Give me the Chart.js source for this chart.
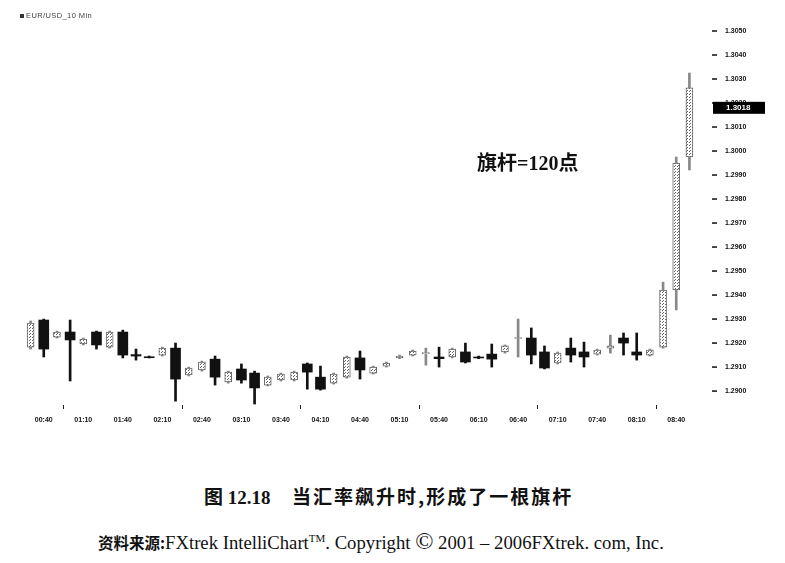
<!DOCTYPE html>
<html>
<head>
<meta charset="utf-8">
<script src="https://cdn.jsdelivr.net/npm/chart.js@4.4.1/dist/chart.umd.min.js"></script>
<style>
  html,body{margin:0;padding:0;background:#fff;}
  #wrap{position:relative;width:785px;height:563px;overflow:hidden;background:#fff;}
  #box{position:absolute;left:0;top:0;width:785px;height:440px;}
  .legend{position:absolute;left:20px;top:11px;font:7.5px "Liberation Sans",Arial,sans-serif;letter-spacing:0.4px;color:#444;white-space:nowrap;}
  .legend i{display:inline-block;width:4px;height:4px;background:#333;margin-right:2px;vertical-align:middle;}
  .note{position:absolute;left:477px;top:147px;font:bold 20px "Liberation Serif","Noto Sans CJK SC",serif;color:#111;white-space:nowrap;}
  .cap1{position:absolute;left:204px;top:482px;font:bold 19px "Liberation Serif","Noto Sans CJK SC",serif;color:#111;white-space:pre;}
  .cap2{position:absolute;left:292px;top:482px;font:bold 19px "Noto Sans CJK SC",sans-serif;letter-spacing:2px;color:#111;white-space:pre;}
  .src{position:absolute;left:98px;top:531px;font:18.7px "Liberation Serif","Noto Sans CJK SC",serif;color:#111;white-space:pre;}
  .src b{font-family:"Noto Sans CJK SC",sans-serif;font-weight:bold;font-size:15.5px;}
  .src sup{font-size:11px;vertical-align:7px;line-height:0;}
  .src .c{font-size:24px;line-height:0;}
</style>
</head>
<body>
<div id="wrap">
  <div id="box"><canvas id="c" width="785" height="440"></canvas></div>
  <div class="legend"><i></i>EUR/USD_10 Min</div>
  <div class="note">旗杆=120点</div>
  <div class="cap1">图 12.18</div>
  <div class="cap2">当汇率飙升时,形成了一根旗杆</div>
  <div class="src"><b>资料来源:</b>FXtrek IntelliChart<sup>TM</sup>. Copyright <span class="c">©</span> 2001 – 2006FXtrek. com, Inc.</div>
</div>
<script>
// ---- data ----
const categories = ["00:30","00:40","00:50","01:00","01:10","01:20","01:30","01:40","01:50","02:00",
  "02:10","02:20","02:30","02:40","02:50","03:00","03:10","03:20","03:30","03:40",
  "03:50","04:00","04:10","04:20","04:30","04:40","04:50","05:00","05:10","05:20",
  "05:30","05:40","05:50","06:00","06:10","06:20","06:30","06:40","06:50","07:00",
  "07:10","07:20","07:30","07:40","07:50","08:00","08:10","08:20","08:30","08:40","08:50"];
const openValues = [1.29183,1.29296,1.29225,1.29246,1.29196,1.29246,1.29183,1.29246,1.29152,1.29143,
  1.29150,1.29179,1.29067,1.29088,1.29133,1.29038,1.29092,1.29075,1.29025,1.29046,
  1.29046,1.29113,1.29058,1.29033,1.29058,1.29138,1.29075,1.29104,1.29138,1.29150,
  1.29156,1.29142,1.29142,1.29163,1.29142,1.29154,1.29163,1.29219,1.29221,1.29163,
  1.29117,1.29179,1.29163,1.29154,1.29179,1.29221,1.29163,1.29150,1.29183,1.29421,1.29975];
const highValues = [1.29292,1.29300,1.29250,1.29296,1.29221,1.29250,1.29250,1.29254,1.29175,1.29146,
  1.29183,1.29200,1.29100,1.29125,1.29146,1.29083,1.29113,1.29083,1.29063,1.29075,
  1.29083,1.29117,1.29104,1.29075,1.29146,1.29167,1.29104,1.29121,1.29150,1.29171,
  1.29179,1.29183,1.29179,1.29200,1.29146,1.29196,1.29192,1.29300,1.29263,1.29188,
  1.29163,1.29221,1.29204,1.29175,1.29233,1.29242,1.29242,1.29175,1.29454,1.29975,1.30325];
const lowValues = [1.29175,1.29142,1.29221,1.29042,1.29192,1.29175,1.29179,1.29138,1.29129,1.29138,
  1.29146,1.28958,1.29063,1.29083,1.29025,1.29033,1.29033,1.28946,1.29021,1.29042,
  1.29042,1.29008,1.29004,1.29029,1.29054,1.29050,1.29071,1.29100,1.29135,1.29146,
  1.29108,1.29100,1.29138,1.29117,1.29135,1.29100,1.29158,1.29142,1.29113,1.29092,
  1.29113,1.29121,1.29100,1.29150,1.29158,1.29150,1.29129,1.29146,1.29179,1.29338,1.29921];
const closeValues = [1.29283,1.29175,1.29246,1.29213,1.29217,1.29192,1.29246,1.29150,1.29146,1.29139,
  1.29179,1.29050,1.29096,1.29121,1.29058,1.29079,1.29046,1.29013,1.29058,1.29071,
  1.29079,1.29079,1.29008,1.29071,1.29142,1.29088,1.29100,1.29117,1.29146,1.29167,
  1.29160,1.29135,1.29175,1.29121,1.29138,1.29133,1.29188,1.29223,1.29150,1.29096,
  1.29158,1.29150,1.29142,1.29171,1.29188,1.29200,1.29150,1.29171,1.29421,1.29950,1.30263];
const xTickLabels = ["00:40","01:10","01:40","02:10","02:40","03:10","03:40","04:10","04:40",
  "05:10","05:40","06:10","06:40","07:10","07:40","08:10","08:40"];
const yTickValues = [1.2900,1.2910,1.2920,1.2930,1.2940,1.2950,1.2960,1.2970,1.2980,1.2990,
  1.3000,1.3010,1.3020,1.3030,1.3040,1.3050];
const lastPrice = 1.3018;

// ---- derived ----
const isUp = openValues.map((o,i)=>closeValues[i] >= o);
const wicks = lowValues.map((l,i)=>[l, highValues[i]]);
const upBodies = openValues.map((o,i)=> isUp[i] ? [o, closeValues[i]] : null);
const downBodies = openValues.map((o,i)=> !isUp[i] ? [closeValues[i], o] : null);
const showTick = i => xTickLabels.includes(categories[i]);

// dotted pattern for hollow candles (scan look)
const pc = document.createElement('canvas'); pc.width = 3; pc.height = 3;
const px = pc.getContext('2d');
px.fillStyle = '#fff'; px.fillRect(0,0,3,3);
px.fillStyle = '#666'; px.fillRect(0,0,1,1); px.fillRect(2,1,1,1);
const pattern = px.createPattern(pc, 'repeat');

const extras = {
  id: 'extras',
  afterDraw(chart) {
    const ctx = chart.ctx, ys = chart.scales.y, ca = chart.chartArea;
    ctx.save();
    ctx.strokeStyle = '#111'; ctx.lineWidth = 1.5;
    yTickValues.forEach(v => {
      const y = ys.getPixelForValue(v);
      ctx.beginPath(); ctx.moveTo(ca.right + 16, y); ctx.lineTo(ca.right + 21, y); ctx.stroke();
    });
    const py = ys.getPixelForValue(lastPrice);
    ctx.fillStyle = '#000';
    ctx.fillRect(ca.right + 17, py - 6, 52, 12);
    ctx.fillStyle = '#fff';
    ctx.font = 'bold 8px "Liberation Sans", Arial, sans-serif';
    ctx.textBaseline = 'middle'; ctx.textAlign = 'left';
    ctx.fillText(lastPrice.toFixed(4), ca.right + 30, py);
    ctx.restore();
  }
};

new Chart(document.getElementById('c'), {
  type: 'bar',
  data: {
    labels: categories,
    datasets: [
      { label: 'wick', data: wicks, grouped: false, order: 2, barThickness: 2,
        backgroundColor: ctx => isUp[ctx.dataIndex] ? '#888' : '#111', borderWidth: 0 },
      { label: 'up', data: upBodies, grouped: false, order: 1, barThickness: 7,
        backgroundColor: pattern, borderColor: '#666', borderWidth: 1, borderSkipped: false },
      { label: 'down', data: downBodies, grouped: false, order: 0, barThickness: 10,
        backgroundColor: '#111', borderColor: '#111', borderWidth: 0, borderSkipped: false }
    ]
  },
  options: {
    responsive: false,
    animation: false,
    layout: { padding: { top: 19, left: 24, right: 0, bottom: 0 } },
    plugins: { legend: { display: false }, tooltip: { enabled: false } },
    scales: {
      x: {
        offset: true,
        border: { display: false },
        grid: { drawOnChartArea: false, drawTicks: true, tickLength: 4, lineWidth: 1,
                color: ctx => showTick(ctx.index) ? '#222' : 'rgba(0,0,0,0)' },
        ticks: {
          autoSkip: false, maxRotation: 0, minRotation: 0, padding: 7,
          color: '#111', font: { family: '"Liberation Sans", Arial, sans-serif', size: 7, weight: 'bold' },
          callback: (v, i) => showTick(i) ? categories[i] : null
        },
        afterFit: s => { s.height = 35; }
      },
      y: {
        position: 'right',
        min: 1.28942, max: 1.3055,
        border: { display: false },
        grid: { display: false, drawTicks: true, tickLength: 26 },
        ticks: {
          padding: 3, color: '#111',
          font: { family: '"Liberation Sans", Arial, sans-serif', size: 7, weight: 'bold' },
          callback: v => Number(v).toFixed(4)
        },
        afterBuildTicks: s => { s.ticks = yTickValues.map(v => ({ value: v })); },
        afterFit: s => { s.width = 89; }
      }
    }
  },
  plugins: [extras]
});
</script>
</body>
</html>
